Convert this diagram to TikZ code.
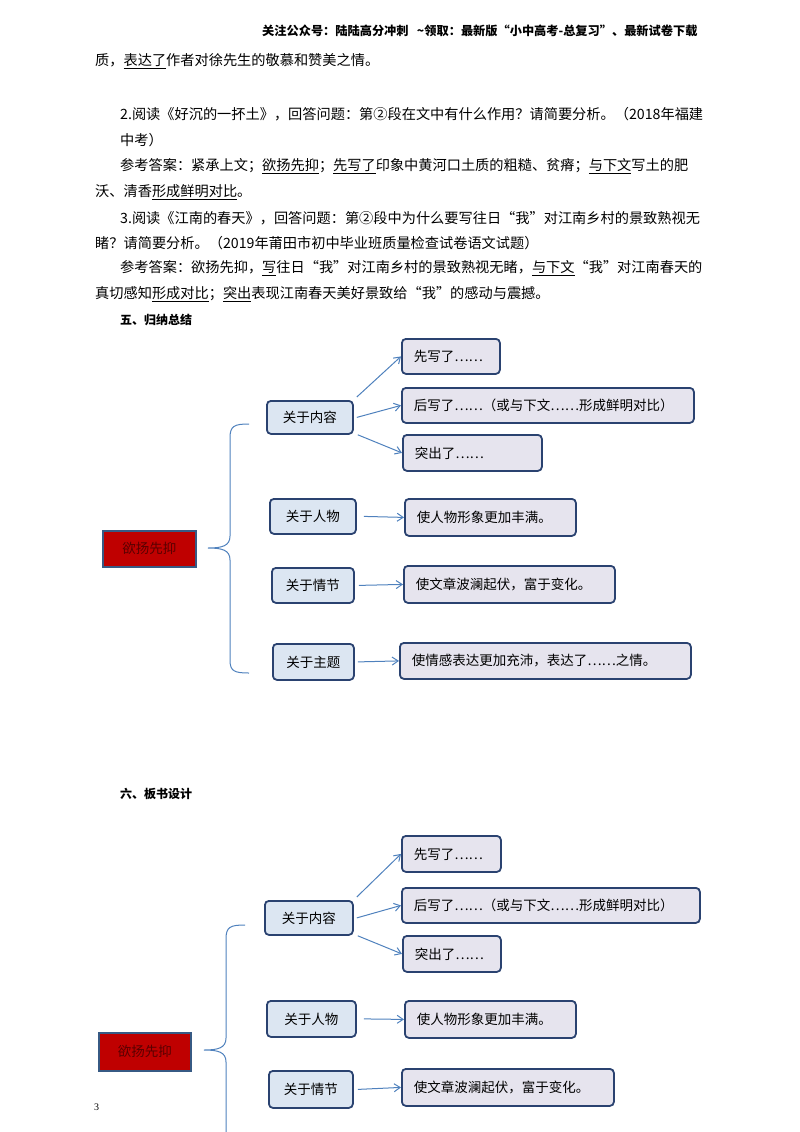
\documentclass[tikz,border=0pt]{standalone}
\usepackage{fontspec}
\setmainfont{Liberation Serif}
\newfontfamily\cjk{Noto Sans CJK SC}
\usetikzlibrary{arrows.meta}
\definecolor{bx}{HTML}{2A4270}
\definecolor{lf}{HTML}{E6E4EE}
\definecolor{cf}{HTML}{DCE6F2}
\definecolor{ar}{HTML}{4F81BD}
\begin{document}
\begin{tikzpicture}[x=1pt,y=-1pt,
 body/.style={anchor=west,inner sep=0,font=\cjk\fontsize{14.2}{15}\selectfont},
 head/.style={anchor=west,inner sep=0,font=\cjk\bfseries\fontsize{12}{13}\selectfont},
 leaf/.style={draw=bx,line width=1.8pt,fill=lf,rounded corners=4pt,anchor=north west,align=left,inner xsep=12pt,inner ysep=0pt,font=\cjk\fontsize{13.5}{14}\selectfont},
 cat/.style={draw=bx,line width=1.8pt,fill=cf,rounded corners=4pt,anchor=north west,align=center,inner sep=0pt,font=\cjk\fontsize{13.5}{14}\selectfont},
 root/.style={draw=ar!70!black,line width=1.5pt,fill=red!75!black,anchor=north west,align=center,inner sep=0pt,text=red!35!black,font=\cjk\fontsize{13.5}{14}\selectfont},
 arr/.style={draw=ar,line width=1pt,-{Straight Barb[length=6pt,width=8pt]}},
 brc/.style={draw=ar,line width=1pt}]
\useasboundingbox (0,0) rectangle (800,1132);
% header
\node[head,font=\cjk\bfseries\fontsize{12.2}{13}\selectfont] (hd) at (262,31) {关注公众号：陆陆高分冲刺\ \ \ \textasciitilde 领取：最新版“小中高考-总复习”、最新试卷下载};
% body text
\node[body] (l1) at (95,61) {质，\underline{表达了}作者对徐先生的敬慕和赞美之情。};
\node[body] (l2) at (120,114) {2.阅读《好沉的一抔土》，回答问题：第②段在文中有什么作用？请简要分析。（2018年福建};
\node[body] (l3) at (120,140) {中考）};
\node[body] (l4) at (120,166) {参考答案：紧承上文；\underline{欲扬先抑}；\underline{先写了}印象中黄河口土质的粗糙、贫瘠；\underline{与下文}写土的肥};
\node[body] (l5) at (95,192) {沃、清香\underline{形成鲜明对比}。};
\node[body] (l6) at (120,218) {3.阅读《江南的春天》，回答问题：第②段中为什么要写往日“我”对江南乡村的景致熟视无};
\node[body] (l7) at (95,243) {睹？请简要分析。（2019年莆田市初中毕业班质量检查试卷语文试题）};
\node[body] (l8) at (120,268) {参考答案：欲扬先抑，\underline{写}往日“我”对江南乡村的景致熟视无睹，\underline{与下文}“我”对江南春天的};
\node[body] (l9) at (95,294) {真切感知\underline{形成对比}；\underline{突出}表现江南春天美好景致给“我”的感动与震撼。};
\node[head] (s5) at (120,320) {五、归纳总结};
\node[head] (s6) at (120,794) {六、板书设计};
\node[anchor=west,inner sep=0,font=\fontsize{10}{11}\selectfont] (pg) at (94,1107) {3};
% ---------- diagram 1
\node[root,minimum width=93pt,minimum height=36pt] (r) at (102,530) {欲扬先抑};
\node[cat,minimum width=86pt,minimum height=33pt] (c1) at (266,400) {关于内容};
\node[cat,minimum width=86pt,minimum height=35pt] (c2) at (269,498) {关于人物};
\node[cat,minimum width=82pt,minimum height=35pt] (c3) at (271,567) {关于情节};
\node[cat,minimum width=81pt,minimum height=36pt] (c4) at (272,643) {关于主题};
\node[leaf,text width=74pt,minimum height=35pt] (a1) at (401,338) {先写了……};
\node[leaf,text width=268pt,minimum height=35pt] (a2) at (401,387) {后写了……（或与下文……形成鲜明对比）};
\node[leaf,text width=115pt,minimum height=36pt] (a3) at (402,434) {突出了……};
\node[leaf,text width=147pt,minimum height=37pt] (b1) at (404,498) {使人物形象更加丰满。};
\node[leaf,text width=187pt,minimum height=37pt] (b2) at (403,565) {使文章波澜起伏，富于变化。};
\node[leaf,text width=267pt,minimum height=36pt] (b3) at (399,642) {使情感表达更加充沛，表达了……之情。};
\draw[arr] ([shift={(3,-3)}]c1.north east) -- ([yshift=0pt]a1.west);
\draw[arr] ([xshift=3pt]c1.east) -- (a2.west);
\draw[arr] ([shift={(4,0)}]c1.south east) -- (a3.west);
\draw[arr] ([xshift=7pt]c2.east) -- (b1.west);
\draw[arr] ([xshift=4pt]c3.east) -- (b2.west);
\draw[arr] ([xshift=3pt]c4.east) -- (b3.west);
\coordinate (t1) at (249,424); \coordinate (m1) at (208,548); \coordinate (e1) at (249,673);
\draw[brc] (t1) .. controls (234,424) and (230,426) .. (230,438) -- (230,536) .. controls (230,546) and (222,548) .. (m1)
 .. controls (222,548) and (230,550) .. (230,560) -- (230,660) .. controls (230,671) and (234,673) .. (e1);
% ---------- diagram 2
\node[root,minimum width=92pt,minimum height=38pt] (R) at (98,1032) {欲扬先抑};
\node[cat,minimum width=88pt,minimum height=34pt] (C1) at (264,900) {关于内容};
\node[cat,minimum width=89pt,minimum height=36pt] (C2) at (266,1000) {关于人物};
\node[cat,minimum width=84pt,minimum height=37pt] (C3) at (268,1070) {关于情节};
\node[leaf,text width=75pt,minimum height=36pt] (A1) at (401,835) {先写了……};
\node[leaf,text width=274pt,minimum height=35pt] (A2) at (401,887) {后写了……（或与下文……形成鲜明对比）};
\node[leaf,text width=74pt,minimum height=36pt] (A3) at (402,935) {突出了……};
\node[leaf,text width=147pt,minimum height=37pt] (B1) at (404,1000) {使人物形象更加丰满。};
\node[leaf,text width=188pt,minimum height=37pt] (B2) at (401,1068) {使文章波澜起伏，富于变化。};
\draw[arr] ([shift={(3,-3)}]C1.north east) -- (A1.west);
\draw[arr] ([xshift=3pt]C1.east) -- (A2.west);
\draw[arr] ([shift={(4,0)}]C1.south east) -- (A3.west);
\draw[arr] ([xshift=7pt]C2.east) -- (B1.west);
\draw[arr] ([xshift=4pt]C3.east) -- (B2.west);
\coordinate (t2) at (245,925); \coordinate (m2) at (204,1050); \coordinate (e2) at (226,1140);
\draw[brc] (t2) .. controls (230,925) and (226,927) .. (226,939) -- (226,1038) .. controls (226,1048) and (218,1050) .. (m2)
 .. controls (218,1050) and (226,1052) .. (226,1062) -- (e2);
\end{tikzpicture}
\end{document}
